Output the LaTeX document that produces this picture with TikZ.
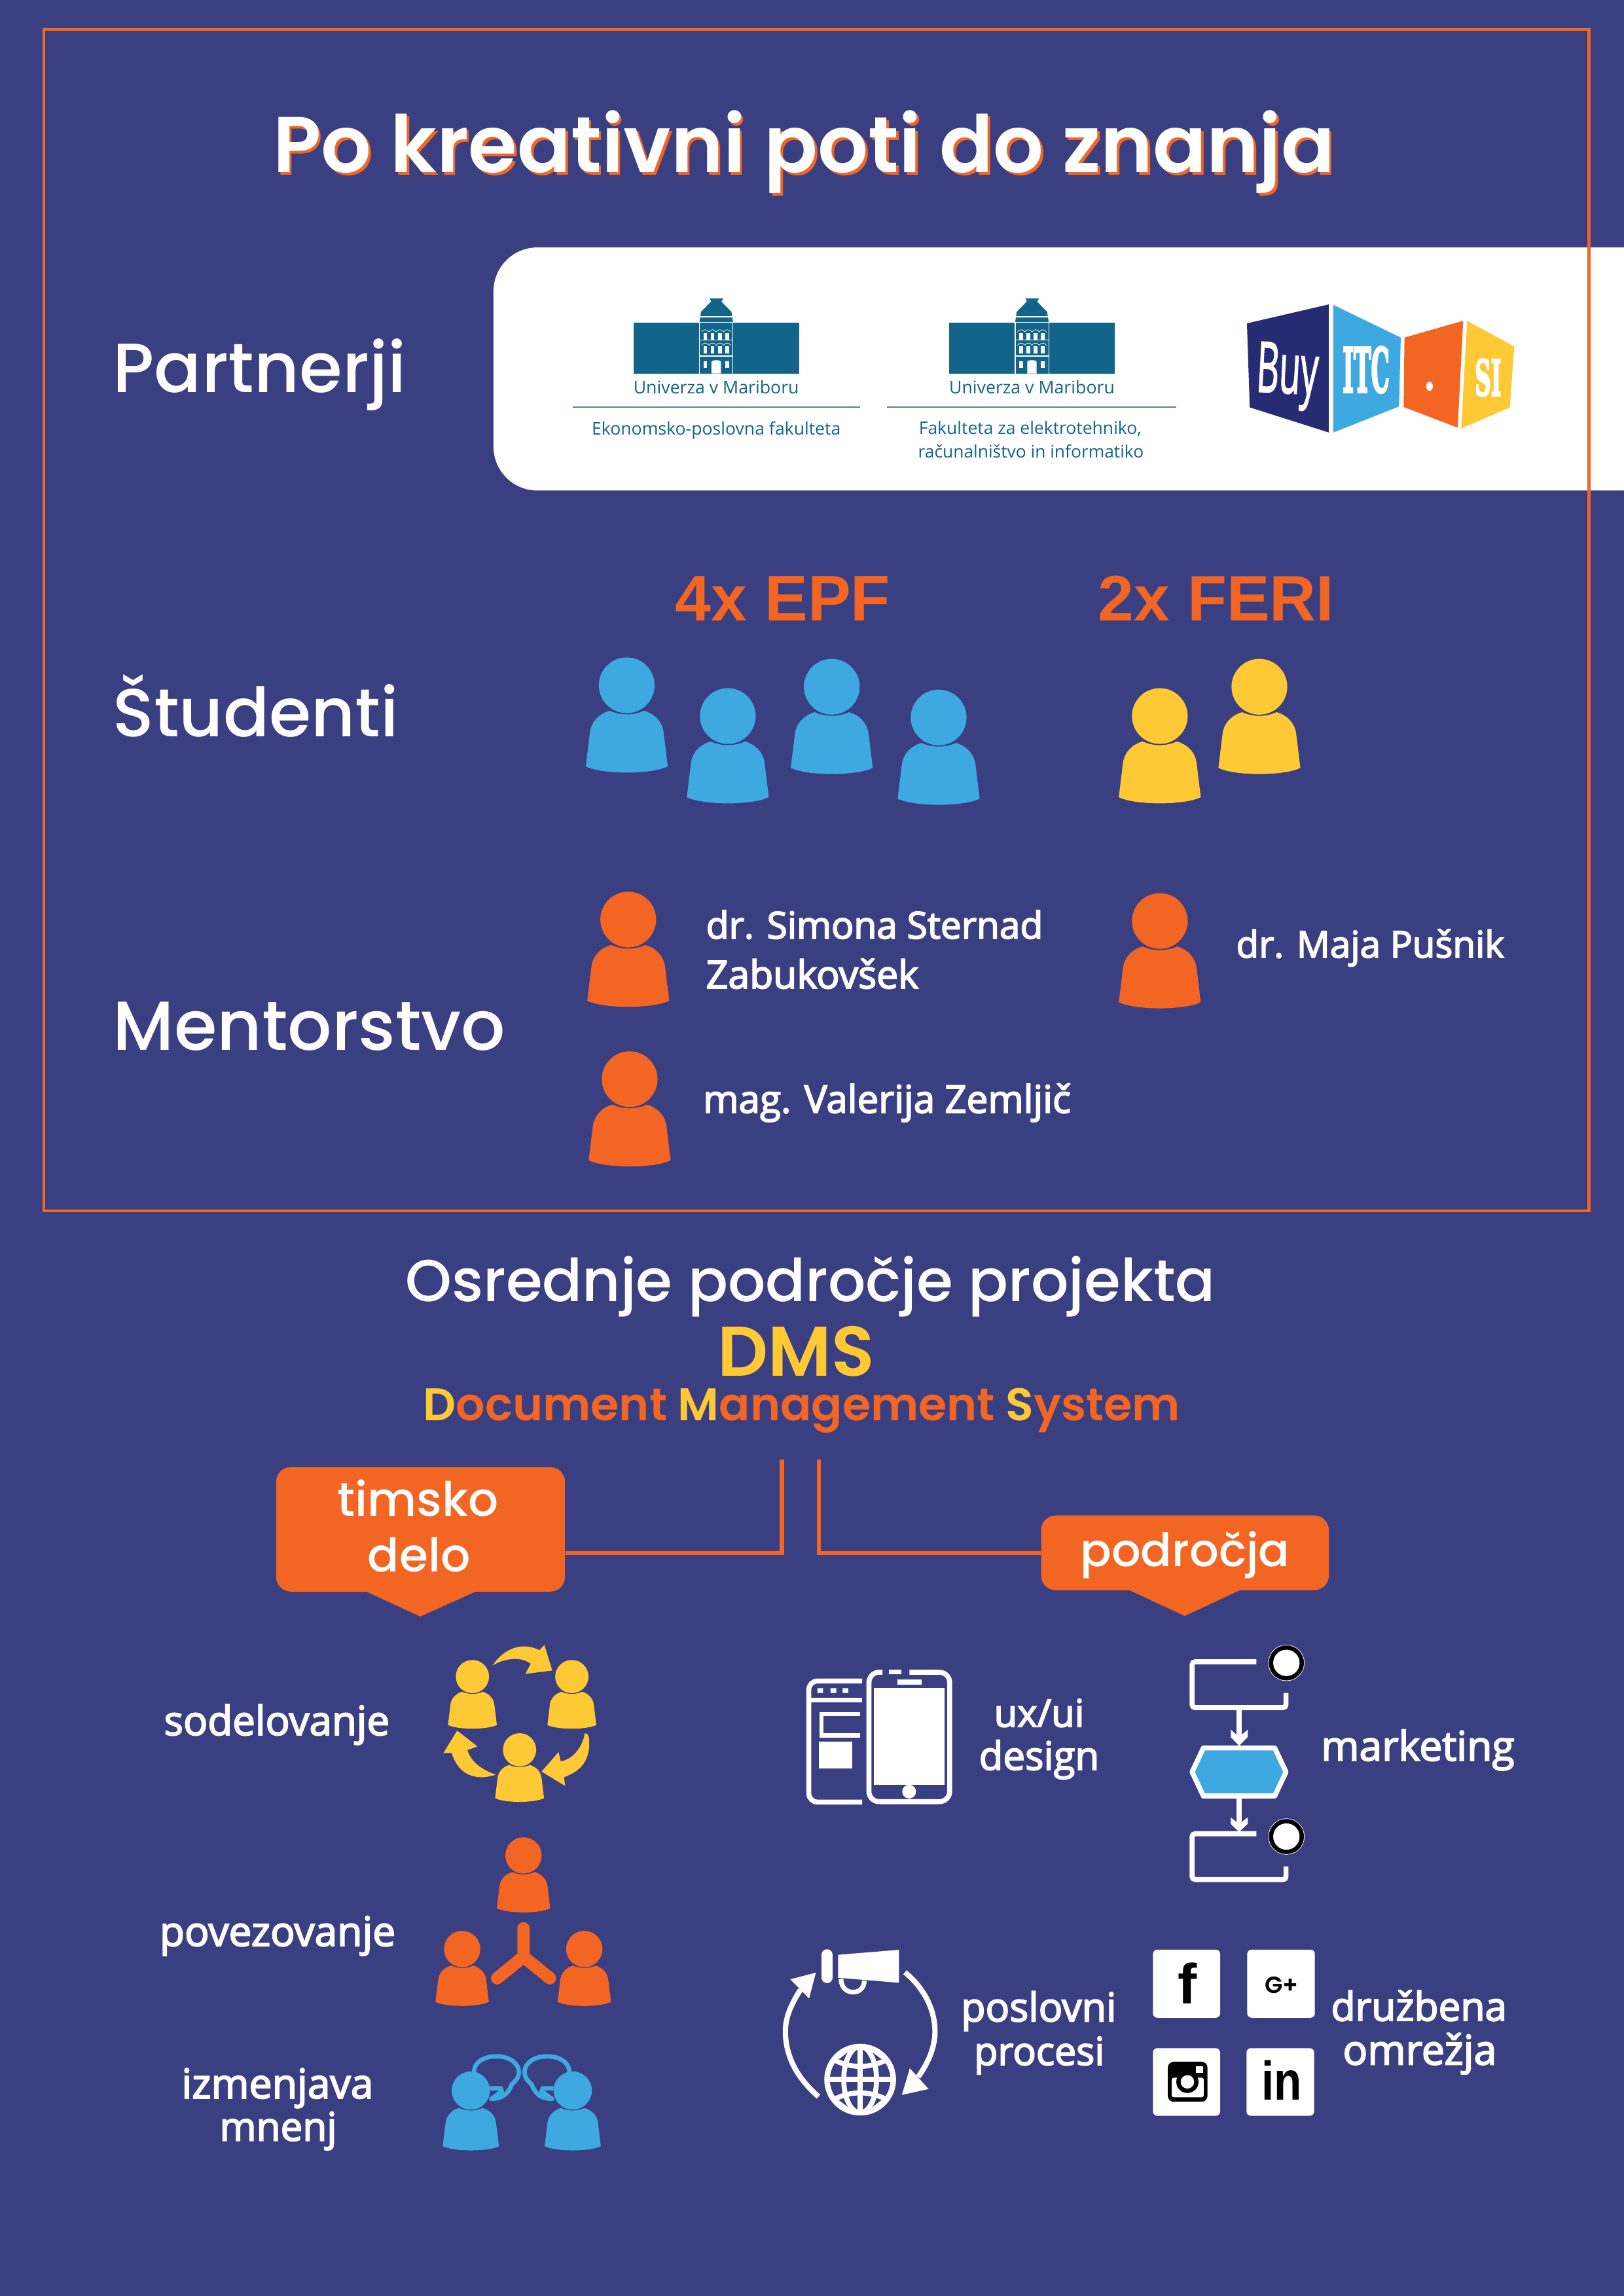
\documentclass[tikz,border=0pt]{standalone}
\usepackage{fontspec}
\usepackage{graphicx}
\usetikzlibrary{shapes.geometric}
\newfontfamily\popm{Poppins Medium}
\newfontfamily\popb{Poppins SemiBold}
\newfontfamily\opens[RawFeature={embolden=3}]{Open Sans}
\newfontfamily\openl{Open Sans}
\newfontfamily\openb[RawFeature={embolden=2}]{Open Sans}
\newfontfamily\arialf{Liberation Sans}
\newfontfamily\slabf[RawFeature={embolden=4}]{DejaVu Serif}
\definecolor{bgc}{HTML}{3A3F82}
\definecolor{org}{HTML}{F36523}
\definecolor{blu}{HTML}{3EA9E0}
\definecolor{yel}{HTML}{FFC936}
\definecolor{navy}{HTML}{262B73}
\definecolor{teal}{HTML}{13648A}
\definecolor{ruleg}{HTML}{5F7F9F}
\newcommand\fitw[2]{\resizebox{#1pt}{!}{#2}}
\newcommand\fitwh[3]{\resizebox{#1pt}{#2pt}{#3}}
\tikzset{
  heading/.style={font=\popm\fontsize{30}{36}\selectfont,text=white,inner sep=0pt},
  body/.style={font=\opens\fontsize{30}{36}\selectfont,text=white,inner sep=0pt},
  logotext/.style={font=\openl\fontsize{20}{24}\selectfont,text=teal,inner sep=0pt},
  callout/.style={fill=org,rounded corners=10pt,inner sep=0pt},
  conn/.style={draw=org,line width=3pt,line join=miter},
  wline/.style={draw=white,line width=3.4pt},
}
% head + body of a person: centre x, top y, width, colour
\newcommand\person[4]{%
  \begin{scope}[shift={(#1,#2)},x={#3*0.01pt},y={-#3*0.01pt}]
    \fill[#4] (0,34) ellipse [x radius=#3*0.34pt,y radius=#3*0.34pt];
    \fill[#4] (-21,65) .. controls (-8,71) and (8,71) .. (21,65)
      .. controls (35,69) and (44,80) .. (45,92) -- (50,133)
      .. controls (30,143) and (-30,143) .. (-50,133) -- (-45,92)
      .. controls (-44,80) and (-35,69) .. (-21,65) -- cycle;
  \end{scope}}
% University building: centre x
\newcommand\umlogo[1]{%
  \begin{scope}[shift={(#1,160.9)},x=0.4963pt,y=-0.149pt]
    \fill[teal] (-114,398) rectangle (114,632);
    \fill[teal] (-9,288) -- (10,288) -- (7,302) -- (21,350) -- (23,396) -- (-23,396) -- (-21,350) -- (-7,302) -- cycle;
    \draw[white,line width=0.5pt] (-23,398) -- (-23,632) (23,398) -- (23,632) (-23,478) -- (23,478) (-23,552) -- (23,552) (-23,372) -- (23,372);
    \foreach \dx in {-15,-5,5,15} {
      \fill[white] (\dx-2.5,447) rectangle (\dx+2.5,478);
      \fill[white] (\dx-2.5,508) rectangle (\dx+2.5,540);
      \draw[white,line width=0.3pt] (\dx-5,442) .. controls (\dx-3,428) and (\dx+3,428) .. (\dx+5,442);
      \draw[white,line width=0.3pt] (\dx-5,503) .. controls (\dx-3,489) and (\dx+3,489) .. (\dx+5,503);
    }
    \fill[white] (-17.5,575) rectangle (-12.5,605);
    \fill[white] (12.5,575) rectangle (17.5,605);
    \fill[white] (-6.5,632) -- (-6.5,580) .. controls (-6.5,568) and (6.5,568) .. (6.5,580) -- (6.5,632) -- cycle;
  \end{scope}}
\begin{document}
\begin{tikzpicture}[x=1pt,y=-1pt]
\useasboundingbox (0,0) rectangle (1109,1568.08);
\fill[bgc] (0,0) rectangle (1109,1568.08);
% white band
\fill[white,rounded corners=30pt] (337,169) rectangle (1160,335);
\fill[bgc] (1109,160) rectangle (1170,340);
% title
\node[heading,anchor=base,text=org] (titleShadow) at (550.6,119.6) {\fitw{725}{\popb Po kreativni poti do znanja}};
\node[heading,anchor=base] (title) at (549,118) {\fitw{725}{\popb Po kreativni poti do znanja}};
% section labels
\node[heading,anchor=base west] (lblPartnerji) at (77,268) {\fitw{200}{Partnerji}};
\node[heading,anchor=base west] (lblStudenti) at (77,503) {\fitw{195}{Študenti}};
\node[heading,anchor=base west] (lblMentor) at (77,717) {\fitw{268}{Mentorstvo}};
% logos
\umlogo{489.1}
\umlogo{704.7}
\node[logotext,anchor=base] (umA) at (489.1,269) {\fitw{113}{Univerza v Mariboru}};
\node[logotext,anchor=base] (umB) at (704.7,269) {\fitw{113}{Univerza v Mariboru}};
\coordinate (ruleAl) at (390.9,277.9); \coordinate (ruleAr) at (587.4,277.9);
\coordinate (ruleBl) at (605.8,277.9); \coordinate (ruleBr) at (803.3,277.9);
\draw[ruleg,line width=0.9pt] (ruleAl) -- (ruleAr);
\draw[ruleg,line width=0.9pt] (ruleBl) -- (ruleBr);
\node[logotext,anchor=base] (epf) at (489.1,297) {\fitw{170}{Ekonomsko-poslovna fakulteta}};
\node[logotext,anchor=base] (feriA) at (703.5,296.5) {\fitw{152}{Fakulteta za elektrotehniko,}};
\node[logotext,anchor=base] (feriB) at (704,312.5) {\fitw{154}{računalništvo in informatiko}};
% BuyITC logo
\begin{scope}[shift={(844.8,201.2)},x=0.149pt,y=-0.149pt]
  \fill[navy] (420,45) -- (45,132) -- (58,517) -- (420,632) -- cycle;
  \fill[blu] (441,47) -- (750,197) -- (742,513) -- (441,632) -- cycle;
  \fill[org] (1036,120) -- (767,197) -- (763,515) -- (1011,610) -- cycle;
  \fill[yel] (1054,120) -- (1270,238) -- (1250,517) -- (1027,614) -- cycle;
\end{scope}
\node[font=\openb\fontsize{20}{24}\selectfont,text=white,inner sep=0pt,rotate=-3] (logoBuy) at (879,257.2) {\fitwh{42}{34}{Buy}};
\node[font=\slabf\bfseries\fontsize{20}{24}\selectfont,text=white,inner sep=0pt] (logoITC) at (932.9,252.6) {\fitwh{32}{31}{ITC}};
\node[fill=white,ellipse,inner sep=0pt,minimum width=4.5pt,minimum height=6.3pt] (logoDot) at (976.2,263.8) {};
\node[font=\slabf\bfseries\fontsize{20}{24}\selectfont,text=white,inner sep=0pt] (logoSI) at (1016.2,257.9) {\fitwh{18}{25}{SI}};
% students
\node[font=\arialf\bfseries\fontsize{30}{36}\selectfont,text=org,inner sep=0pt,anchor=base] (epfHead) at (534.5,424) {\fitw{147}{4x EPF}};
\node[font=\arialf\bfseries\fontsize{30}{36}\selectfont,text=org,inner sep=0pt,anchor=base] (feriHead) at (830.5,424) {\fitw{161}{2x FERI}};
\person{428}{449}{56}{blu}
\person{497}{470}{56}{blu}
\person{568}{450}{56}{blu}
\person{641}{471}{56}{blu}
\person{792}{470}{56}{yel}
\person{860}{450}{56}{yel}
% mentors
\person{429}{609}{56}{org}
\person{792}{610}{56}{org}
\person{430}{718}{56}{org}
\node[body,anchor=base west] (m1a) at (482,641) {\fitw{230}{dr. Simona Sternad}};
\node[body,anchor=base west] (m1b) at (482,675) {\fitw{145}{Zabukovšek}};
\node[body,anchor=base west] (m2) at (844,654) {\fitw{183}{dr. Maja Pušnik}};
\node[body,anchor=base west] (m3) at (480,760) {\fitw{251}{mag. Valerija Zemljič}};
% frame
\draw[org,line width=2pt] (30,20) rectangle (1085,827);
% central
\node[heading,anchor=base] (osr) at (553.5,889) {\fitw{553}{Osrednje področje projekta}};
\node[heading,anchor=base,text=yel] (dms) at (543.5,940) {\fitw{107}{\popb DMS}};
\node[heading,anchor=base,text=org] (dmsLong) at (547.5,970) {\fitw{517}{\popb {\color{yel}D}ocument {\color{yel}M}anagement {\color{yel}S}ystem}};
% callouts
\node[callout,minimum width=197.2pt,minimum height=85pt] (calloutL) at (287.2,1044.5) {};
\node[callout,minimum width=196.5pt,minimum height=51pt] (calloutR) at (809.2,1060.5) {};
\fill[org] (248,1086) -- (287,1104) -- (327,1086) -- cycle;
\fill[org] (769,1085) -- (809,1103.6) -- (849,1085) -- cycle;
\coordinate (trunkLt) at (533.8,997); \coordinate (trunkLb) at (533.8,1060.7);
\coordinate (trunkRt) at (559.2,997); \coordinate (trunkRb) at (559.2,1060.7);
\draw[conn] (trunkLt) -- (trunkLb) -- (calloutL.east |- trunkLb);
\draw[conn] (trunkRt) -- (trunkRb) -- (calloutR.west |- trunkRb);
\node[heading,anchor=base] (timsko) at (285.4,1035.3) {\fitw{110}{timsko}};
\node[heading,anchor=base] (delo) at (286.2,1073.3) {\fitw{70}{delo}};
\node[heading,anchor=base] (podrocja) at (809.3,1070) {\fitw{143}{področja}};
% left labels
\node[body,anchor=base] (sod) at (189,1185) {\fitw{154}{sodelovanje}};
\node[body,anchor=base] (pov) at (189.5,1329) {\fitw{161}{povezovanje}};
\node[body,anchor=base] (izm) at (189.5,1433) {\fitw{131}{izmenjava}};
\node[body,anchor=base] (mne) at (190,1462) {\fitw{80}{mnenj}};
% cooperation icon (yellow)
\person{322.6}{1133.7}{33.4}{yel}
\person{390.5}{1133.7}{33.4}{yel}
\person{354.8}{1183.7}{33.4}{yel}
\begin{scope}[shift={(268.2,1095.2)},x=0.149pt,y=-0.2566pt]
  \fill[yel] (457,165) .. controls (520,110) and (610,105) .. (672,124) -- (695,110) -- (731,178) -- (608,187) -- (632,160) .. controls (590,140) and (510,145) .. (457,165) -- cycle;
  \fill[yel] (880,345) .. controls (905,345) and (900,370) .. (900,380) .. controls (895,430) and (840,450) .. (785,462) -- (790,485) -- (682,447) -- (760,395) -- (770,420) .. controls (820,415) and (870,385) .. (880,345) -- cycle;
  \fill[yel] (473,455) .. controls (400,470) and (305,465) .. (270,397) -- (232,398) -- (295,338) -- (388,380) -- (342,390) .. controls (360,425) and (420,445) .. (473,455) -- cycle;
\end{scope}
% linking icon (orange)
\person{357.5}{1254.8}{36.5}{org}
\person{315.6}{1318.7}{36.5}{org}
\person{399}{1318.7}{36.5}{org}
\draw[org,line width=8.5pt,line cap=round,line join=miter] (357.5,1317) -- (357.5,1336.4) (339.5,1351) -- (357.5,1336.4) -- (375.5,1351);
% exchange icon (blue)
\begin{scope}[shift={(268.2,1095.2)},x=0.149pt,y=-0.2566pt]
  \draw[blu,line width=3pt,line join=round] (372,1250) .. controls (372,1215) and (430,1205) .. (475,1205) .. controls (540,1205) and (578,1225) .. (578,1247) .. controls (578,1262) and (560,1272) .. (545,1280) .. controls (530,1305) and (500,1318) .. (452,1318) -- (500,1298) -- (495,1290) -- (445,1290);
  \draw[blu,line width=3pt,line join=round] (810,1250) .. controls (810,1215) and (752,1205) .. (707,1205) .. controls (642,1205) and (604,1225) .. (604,1247) .. controls (604,1262) and (622,1272) .. (637,1280) .. controls (652,1305) and (682,1318) .. (730,1318) -- (682,1298) -- (687,1290) -- (737,1290);
\end{scope}
\person{321.5}{1414.7}{38.4}{blu}
\person{391.1}{1414.7}{38.4}{blu}
% phone icon
\begin{scope}[shift={(536.4,1117.5)},x=0.2566pt,y=-0.149pt]
  \draw[wline,rounded corners=6pt] (204,205) -- (62,205) -- (62,760) -- (204,760);
  \draw[wline] (62,292) -- (204,292);
  \fill[white] (85,238) rectangle (100,260) (120,238) rectangle (135,260) (152,238) rectangle (167,260);
  \draw[white,line width=3pt] (198,357) -- (96,357) -- (96,455) -- (198,455);
  \fill[white] (88,483) rectangle (177,606);
  \draw[wline,rounded corners=7pt] (258,165) -- (222,165) -- (222,758) -- (437,758) -- (437,165) -- (330,165);
  \fill[white] (275,152) rectangle (308,175);
  \fill[white] (297,197) rectangle (362,222);
  \fill[white] (235,238) rectangle (423,682);
  \fill[white] (329,712) circle [radius=4.7pt];
  % flow icon
  \draw[wline,rounded corners=2pt] (1253,117) -- (1082,117) -- (1082,327) -- (1332,327) -- (1332,260);
  \draw[wline,rounded corners=2pt] (1253,905) -- (1082,905) -- (1082,1115) -- (1332,1115) -- (1332,1055);
  \draw[white,line width=3.6pt] (1207,335) -- (1207,470);
  \fill[white] (1207,502) -- (1185,462) -- (1185,428) -- (1207,462) -- (1230,428) -- (1230,462) -- cycle;
  \draw[white,line width=3.6pt] (1207,740) -- (1207,865);
  \fill[white] (1207,897) -- (1185,860) -- (1185,830) -- (1207,862) -- (1230,830) -- (1230,860) -- cycle;
  \draw[blu,fill=blu] (1112,512) -- (1302,512) -- (1332,622) -- (1302,732) -- (1112,732) -- (1082,622) -- cycle;
  \draw[wline,line join=round] (1112,512) -- (1302,512) -- (1332,622) -- (1302,732) -- (1112,732) -- (1082,622) -- cycle;
  \fill[white] (1333,122) circle [radius=12.4pt];
  \fill[black] (1333,122) circle [radius=12pt];
  \fill[white] (1333,122) circle [radius=9pt];
  \fill[white] (1333,918) circle [radius=12.4pt];
  \fill[black] (1333,918) circle [radius=12pt];
  \fill[white] (1333,918) circle [radius=9pt];
\end{scope}
\node[body,anchor=base] (ux) at (709.6,1179.3) {\fitw{61.6}{ux/ui}};
\node[body,anchor=base] (design) at (709.6,1208.7) {\fitw{82}{design}};
\node[body,anchor=base west] (marketing) at (902,1202.4) {\fitw{132}{marketing}};
% process icon
\begin{scope}[shift={(523,1314.2)},x=0.2566pt,y=-0.149pt]
  \draw[white,line width=3.6pt] (140,790) .. controls (80,700) and (52,600) .. (52,490) .. controls (52,420) and (70,360) .. (92,300);
  \fill[white] (65,252) -- (133,222) -- (115,340) -- cycle;
  \draw[white,line width=3.6pt] (370,220) .. controls (420,290) and (450,390) .. (450,490) .. controls (450,570) and (430,640) .. (405,700);
  \fill[white] (383,660) -- (433,755) -- (362,782) -- cycle;
  \draw[white,line width=7.6pt,line cap=round] (163,140) -- (163,244);
  \fill[white] (192,140) -- (354,117) -- (354,268) -- (192,245) -- cycle;
  \draw[white,line width=3.2pt] (200,250) .. controls (200,330) and (262,330) .. (262,258);
\end{scope}
\begin{scope}[shift={(554.3,1390.2)},x=0.149pt,y=-0.149pt]
  \draw[white,line width=3.8pt] (222,202) circle [radius=22.6pt];
  \draw[white,line width=3.6pt] (222,50) -- (222,354) (70,202) -- (374,202);
  \draw[white,line width=3.4pt] (222,202) ellipse [x radius=11.2pt,y radius=22.6pt];
  \draw[white,line width=3.4pt] (110,115) .. controls (180,150) and (264,150) .. (335,115);
  \draw[white,line width=3.4pt] (110,289) .. controls (180,254) and (264,254) .. (335,289);
  \draw[white,line width=3pt] (118,100) -- (170,60) (326,100) -- (274,60) (118,304) -- (170,344) (326,304) -- (274,344);
\end{scope}
\node[body,anchor=base] (posl) at (709.3,1380.5) {\fitw{106}{poslovni}};
\node[body,anchor=base] (proc) at (709.7,1410.3) {\fitw{89}{procesi}};
\node[body,anchor=base] (druz) at (969,1380) {\fitw{120}{družbena}};
\node[body,anchor=base] (omr) at (969.5,1410) {\fitw{105}{omrežja}};
% social tiles
\fill[white,rounded corners=3pt] (787.3,1331.5) rectangle (833.2,1378);
\fill[white,rounded corners=3pt] (851.7,1331.5) rectangle (897.9,1378);
\fill[white,rounded corners=3pt] (787.3,1398.8) rectangle (833.2,1445);
\fill[white,rounded corners=3pt] (851.2,1398.8) rectangle (897.4,1445);
\node[font=\arialf\bfseries\fontsize{30}{36}\selectfont,text=black,inner sep=0pt] (fbGlyph) at (811,1354.7) {\fitwh{13}{28}{f}};
\node[font=\popb\fontsize{20}{24}\selectfont,text=black,inner sep=0pt] (gpGlyph) at (875.3,1355.6) {\fitw{23}{G+}};
\node[font=\arialf\bfseries\fontsize{30}{36}\selectfont,text=black,inner sep=0pt] (inGlyph) at (875.3,1420.7) {\fitwh{27.5}{27}{in}};
\begin{scope}[shift={(791.2,1401.4)},x=0.149pt,y=-0.149pt]
  \fill[black,rounded corners=4pt] (42,45) rectangle (224,228);
  \fill[white,rounded corners=1.5pt] (60,118) rectangle (207,208);
  \fill[black] (132,137) circle [radius=7.6pt];
  \fill[white] (132,137) circle [radius=4.6pt];
  \fill[white] (172,67) rectangle (205,97);
\end{scope}
\end{tikzpicture}
\end{document}
